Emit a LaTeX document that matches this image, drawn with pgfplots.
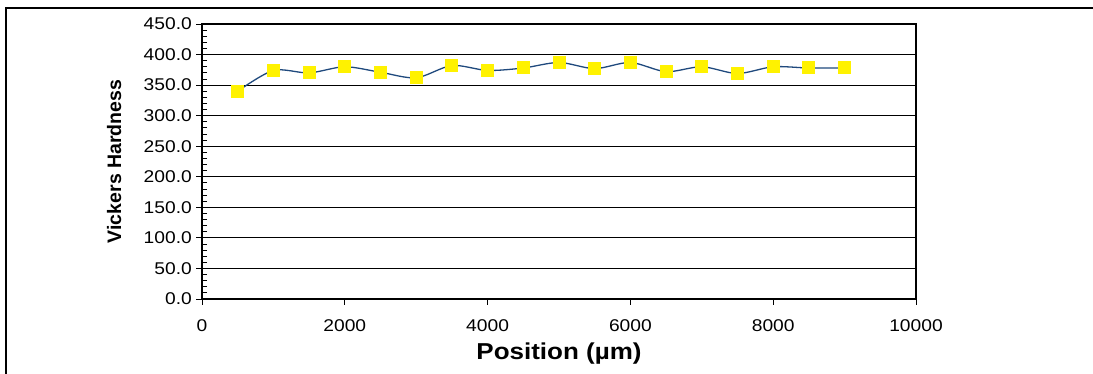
\documentclass[border=0pt]{standalone}
\usepackage{pgfplots}
\pgfplotsset{compat=1.18}
\usepackage{pgfplotstable}
\usepackage{fontspec}
\setmainfont{Liberation Sans}[FakeStretch=1.13]
\newfontfamily\ylabfont{Liberation Sans}
\definecolor{linec}{RGB}{31,73,125}

\pgfplotstableread{
x y
500 340
1000 374
1500 370
2000 380
2500 371
3000 362
3500 382
4000 374
4500 378
5000 387
5500 377
6000 387
6500 372
7000 380
7500 369
8000 380
8500 378
9000 378
}\hardness

\begin{document}
\begin{tikzpicture}[x=1pt,y=1pt]
\useasboundingbox (0,0) rectangle (1093,374);
\draw[line width=1.3pt] (6,0) -- (6,366) -- (1093,366);
\begin{axis}[
 at={(202pt,75pt)}, anchor=south west,
 width=714pt, height=275pt, scale only axis,
 xmin=0, xmax=10000, ymin=0, ymax=450,
 xtick={0,2000,...,10000},
 ytick={0,50,...,450},
 minor y tick num=4,
 xtick pos=bottom, ytick pos=left,
 ymajorgrids,
 major grid style={black, line width=0.8pt},
 axis line style={line width=1.8pt},
 tick style={black, line width=0.8pt},
 tick align=outside,
 major tick length=6pt,
 minor tick length=-5pt,
 /pgf/number format/assume math mode=true,
 scaled ticks=false,
 yticklabel={\pgfmathprintnumber[fixed,fixed zerofill,precision=1]{\tick}},
 xticklabel style={/pgf/number format/1000 sep={}, anchor=north, inner sep=0pt, yshift=-14pt},
 yticklabel style={anchor=east, inner sep=0pt, xshift=-4pt},
 ticklabel style={font=\fontsize{17}{20}\selectfont},
 xlabel={\bfseries Position (µm)},
 xlabel style={at={(axis description cs:0.5,0)}, anchor=base, yshift=-61pt, font=\fontsize{23}{26}\selectfont},
 ylabel={\ylabfont\bfseries Vickers Hardness},
 ylabel style={at={(axis description cs:-0.1232,0.5)}, anchor=center, rotate=0, font=\fontsize{19.5}{22}\selectfont},
 clip=false,
]
\addplot[color=linec, line width=1.3pt, smooth, mark=square*, mark size=6pt,
  mark options={fill=yellow, draw=yellow, line width=0pt}] table[x=x,y=y] {\hardness};
\end{axis}
\end{tikzpicture}
\end{document}
